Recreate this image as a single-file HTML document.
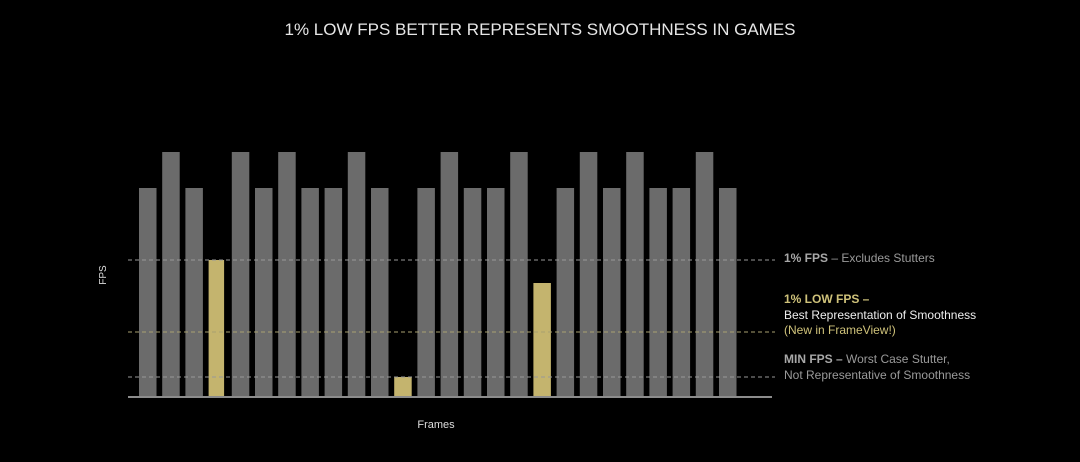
<!DOCTYPE html>
<html><head><meta charset="utf-8"><style>
body{margin:0;background:#000;width:1080px;height:457px;overflow:hidden;font-family:"Liberation Sans",sans-serif}
</style></head><body>
<svg width="1080" height="457" xmlns="http://www.w3.org/2000/svg" font-family="Liberation Sans, sans-serif">
<rect width="1080" height="457" fill="#000"/>
<text x="540" y="35" fill="#e6e6e6" font-size="17" text-anchor="middle">1% LOW FPS BETTER REPRESENTS SMOOTHNESS IN GAMES</text>
<g fill="#6b6b6b">
<rect x="139" y="188" width="17.5" height="208"/>
<rect x="162.2" y="152" width="17.5" height="244"/>
<rect x="185.4" y="188" width="17.5" height="208"/>
<rect x="231.8" y="152" width="17.5" height="244"/>
<rect x="255" y="188" width="17.5" height="208"/>
<rect x="278.2" y="152" width="17.5" height="244"/>
<rect x="301.4" y="188" width="17.5" height="208"/>
<rect x="324.6" y="188" width="17.5" height="208"/>
<rect x="347.8" y="152" width="17.5" height="244"/>
<rect x="371" y="188" width="17.5" height="208"/>
<rect x="417.4" y="188" width="17.5" height="208"/>
<rect x="440.6" y="152" width="17.5" height="244"/>
<rect x="463.8" y="188" width="17.5" height="208"/>
<rect x="487" y="188" width="17.5" height="208"/>
<rect x="510.2" y="152" width="17.5" height="244"/>
<rect x="556.6" y="188" width="17.5" height="208"/>
<rect x="579.8" y="152" width="17.5" height="244"/>
<rect x="603" y="188" width="17.5" height="208"/>
<rect x="626.2" y="152" width="17.5" height="244"/>
<rect x="649.4" y="188" width="17.5" height="208"/>
<rect x="672.6" y="188" width="17.5" height="208"/>
<rect x="695.8" y="152" width="17.5" height="244"/>
<rect x="719" y="188" width="17.5" height="208"/>
</g>
<g fill="#c4b46e">
<rect x="208.6" y="260" width="15.5" height="136"/>
<rect x="394.2" y="377" width="17.5" height="19"/>
<rect x="533.4" y="283" width="17.5" height="113"/>
</g>
<line x1="128" y1="260" x2="775" y2="260" stroke="#999" stroke-width="1" stroke-dasharray="4,3"/>
<line x1="128" y1="332" x2="775" y2="332" stroke="#a8a070" stroke-width="1" stroke-dasharray="4,3"/>
<line x1="128" y1="377" x2="775" y2="377" stroke="#999" stroke-width="1" stroke-dasharray="4,3"/>
<line x1="128" y1="397" x2="772" y2="397" stroke="#bbb" stroke-width="1.5"/>
<text x="106" y="275" fill="#ddd" font-size="10" text-anchor="middle" transform="rotate(-90 106 275)">FPS</text>
<text x="436" y="428" fill="#ddd" font-size="11" text-anchor="middle">Frames</text>
<g font-size="12">
<text x="784" y="262" fill="#9a9a9a"><tspan font-weight="bold" fill="#a8a8a8">1% FPS</tspan> – Excludes Stutters</text>
<text x="784" y="303" fill="#cfc27a" font-weight="bold">1% LOW FPS –</text>
<text x="784" y="319" fill="#eee">Best Representation of Smoothness</text>
<text x="784" y="334" fill="#cfc27a">(New in FrameView!)</text>
<text x="784" y="363" fill="#9a9a9a"><tspan font-weight="bold" fill="#a8a8a8">MIN FPS –</tspan> Worst Case Stutter,</text>
<text x="784" y="379" fill="#9a9a9a">Not Representative of Smoothness</text>
</g>
</svg>
</body></html>
